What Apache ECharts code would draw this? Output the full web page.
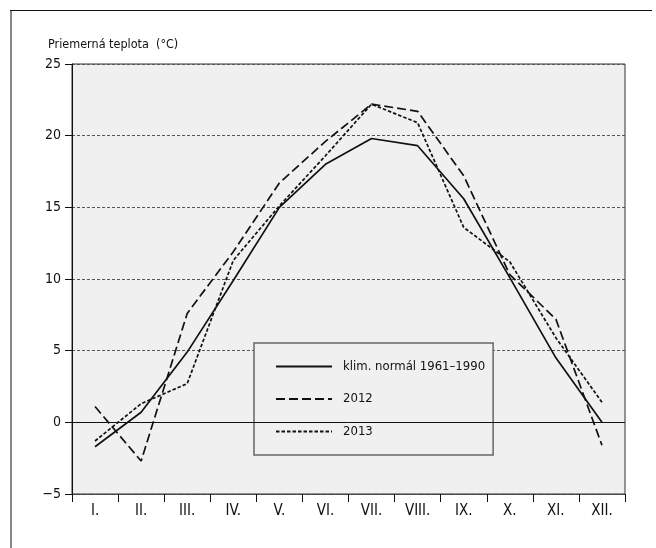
<!DOCTYPE html>
<html>
<head>
<meta charset="utf-8">
<script src="https://cdn.jsdelivr.net/npm/echarts@6/dist/echarts.min.js"></script>
<style>
html,body{margin:0;padding:0;background:#fff;}
#c{width:656px;height:548px;}
</style>
</head>
<body>
<div id="c"></div>
<script>
var months = ['I.', 'II.', 'III.', 'IV.', 'V.', 'VI.', 'VII.', 'VIII.', 'IX.', 'X.', 'XI.', 'XII.'];
var normal = [-1.7, 0.7, 4.9, 9.9, 15.0, 18.0, 19.8, 19.3, 15.6, 10.1, 4.5, 0.0];
var y2012 = [1.1, -2.7, 7.6, 11.9, 16.7, 19.6, 22.2, 21.7, 17.2, 10.3, 7.2, -1.6];
var y2013 = [-1.3, 1.3, 2.7, 11.3, 15.1, 18.6, 22.2, 20.9, 13.6, 11.2, 5.9, 1.4];
var names = ['klim. normál 1961\u20131990', '2012', '2013'];
var yTitle = 'Priemerná teplota  (°C)';

var FONT = "'Liberation Sans Narrow', 'DejaVu Sans Condensed', 'Roboto Condensed', sans-serif";
var chart = echarts.init(document.getElementById('c'));
chart.setOption({
  animation: false,
  backgroundColor: '#fff',
  textStyle: { fontFamily: FONT, color: '#111' },
  grid: {
    left: 72, right: 31, top: 64, bottom: 54,
    show: true, backgroundColor: '#eff0ef', borderColor: '#333', borderWidth: 1
  },
  graphic: [
    { type: 'line', shape: { x1: 10, y1: 10.5, x2: 652, y2: 10.5 }, style: { stroke: '#111', lineWidth: 1 } },
    { type: 'line', shape: { x1: 11, y1: 10, x2: 11, y2: 548 }, style: { stroke: '#111', lineWidth: 1 } },
    { type: 'text', left: 48, top: 38, style: { text: yTitle, font: '12.5px ' + FONT, fill: '#111' } }
  ],
  legend: {
    orient: 'vertical',
    left: 254, top: 343,
    padding: [17, 8, 17, 21],
    itemWidth: 56, itemHeight: 14, itemGap: 19.5,
    backgroundColor: '#eff0ef',
    borderColor: '#666', borderWidth: 1.5,
    itemStyle: { opacity: 0 },
    textStyle: { fontFamily: FONT, fontSize: 13, color: '#111', padding: [0, 0, 0, 6] },
    data: names
  },
  xAxis: {
    type: 'category',
    data: months,
    boundaryGap: true,
    axisLine: { show: true, onZero: false, lineStyle: { color: '#444', width: 1, type: [2, 1] } },
    axisTick: { show: true, length: 8, interval: 0, lineStyle: { color: '#111' } },
    axisLabel: { interval: 0, fontSize: 15, color: '#111', margin: 10, fontFamily: FONT },
    splitLine: { show: false }
  },
  yAxis: {
    type: 'value',
    min: -5, max: 25, interval: 5,
    axisLine: { show: true, lineStyle: { color: '#111', width: 1 } },
    axisTick: { show: true, length: 7, lineStyle: { color: '#111' } },
    axisLabel: {
      fontSize: 14, color: '#111', margin: 11, fontFamily: FONT,
      formatter: function (v) { return v < 0 ? '\u2212' + Math.abs(v) : String(v); }
    },
    splitLine: { show: true, lineStyle: { color: '#555', width: 1, type: [3, 2] } }
  },
  series: [
    {
      name: names[0], type: 'line', data: normal, symbol: 'none',
      lineStyle: { color: '#111', width: 1.7, type: 'solid' },
      itemStyle: { color: '#111' },
      markLine: {
        silent: true, symbol: 'none', label: { show: false },
        lineStyle: { color: '#111', width: 1, type: 'solid' },
        data: [{ yAxis: 0 }]
      },
      z: 3
    },
    {
      name: names[1], type: 'line', data: y2012, symbol: 'none',
      lineStyle: { color: '#111', width: 1.7, type: [9, 4] },
      itemStyle: { color: '#111' },
      z: 3
    },
    {
      name: names[2], type: 'line', data: y2013, symbol: 'none',
      lineStyle: { color: '#111', width: 1.7, type: [3.5, 2] },
      itemStyle: { color: '#111' },
      z: 3
    }
  ]
});
</script>
</body>
</html>
